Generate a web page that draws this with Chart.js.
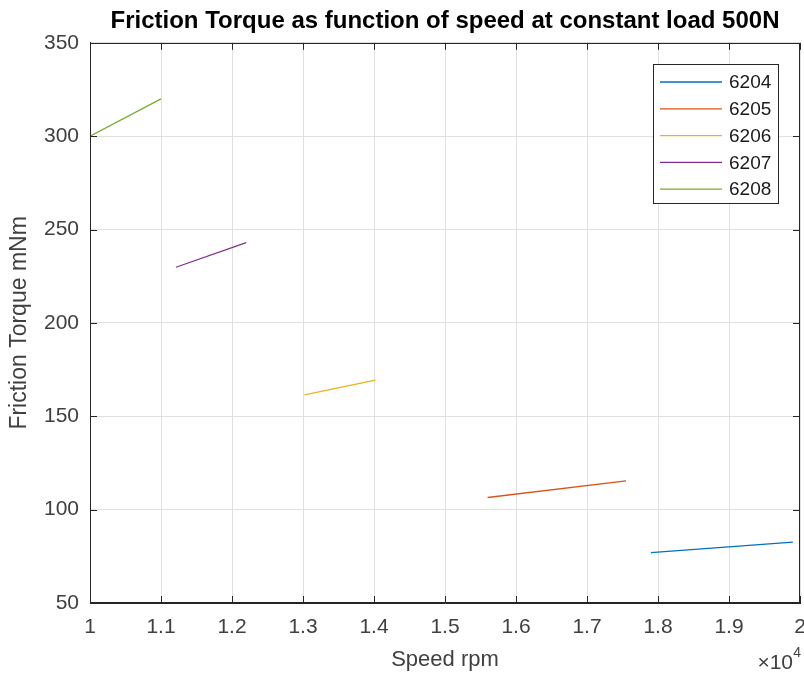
<!DOCTYPE html>
<html>
<head>
<meta charset="utf-8">
<script src="https://cdn.jsdelivr.net/npm/chart.js@4/dist/chart.umd.min.js"></script>
<style>
  html, body { margin: 0; padding: 0; background: #ffffff; }
  #wrap { width: 804px; height: 675px; }
</style>
</head>
<body>
<div id="wrap"><canvas id="c" width="804" height="675"></canvas></div>
<script>
// ---- data ----
const seriesNames = ['6204', '6205', '6206', '6207', '6208'];
const speed6204 = [17900, 19900];
const torque6204 = [77.0, 82.6];
const speed6205 = [15600, 17550];
const torque6205 = [106.5, 115.4];
const speed6206 = [13020, 14020];
const torque6206 = [161.4, 169.4];
const speed6207 = [11210, 12200];
const torque6207 = [229.8, 243.0];
const speed6208 = [10000, 11000];
const torque6208 = [300.0, 320.0];
const xTickValues = [10000, 11000, 12000, 13000, 14000, 15000, 16000, 17000, 18000, 19000, 20000];
const yTickValues = [50, 100, 150, 200, 250, 300, 350];
const colors = ['#0072BD', '#D95319', '#EDB120', '#7E2F8E', '#77AC30'];

const speeds = [speed6204, speed6205, speed6206, speed6207, speed6208];
const torques = [torque6204, torque6205, torque6206, torque6207, torque6208];

const FONT = '"Liberation Sans", Arial, Helvetica, sans-serif';
const AXIS_COLOR = '#262626';
const LABEL_COLOR = '#404040';

const datasets = seriesNames.map((name, i) => ({
  label: name,
  data: speeds[i].map((s, k) => ({ x: s, y: torques[i][k] })),
  borderColor: colors[i],
  backgroundColor: colors[i],
  borderWidth: 1.3,
  pointRadius: 0,
  showLine: true,
  fill: false,
  tension: 0
}));

// box, inward ticks, legend, exponent label
const matlabPlugin = {
  id: 'matlabDecor',
  afterDatasetsDraw(chart) {
    const ctx = chart.ctx;
    const a = chart.chartArea;
    const xs = chart.scales.x, ys = chart.scales.y;
    ctx.save();
    ctx.strokeStyle = AXIS_COLOR;
    ctx.lineWidth = 1;
    // inward ticks
    const tl = 7;
    ctx.beginPath();
    xTickValues.forEach(v => {
      const px = Math.round(xs.getPixelForValue(v)) + 0.5;
      ctx.moveTo(px, a.bottom); ctx.lineTo(px, a.bottom - tl);
      ctx.moveTo(px, a.top); ctx.lineTo(px, a.top + tl);
    });
    yTickValues.forEach(v => {
      const py = Math.round(ys.getPixelForValue(v)) + 0.5;
      ctx.moveTo(a.left, py); ctx.lineTo(a.left + tl, py);
      ctx.moveTo(a.right, py); ctx.lineTo(a.right - tl, py);
    });
    ctx.stroke();
    // box
    ctx.strokeRect(Math.round(a.left) + 0.5, Math.round(a.top) + 0.5,
                   Math.round(a.right - a.left) - 1, Math.round(a.bottom - a.top) - 1);

    // legend
    const lx = 653, ly = 64, lw = 125, lh = 139;
    ctx.fillStyle = '#ffffff';
    ctx.fillRect(lx, ly, lw, lh);
    ctx.strokeStyle = AXIS_COLOR;
    ctx.strokeRect(lx + 0.5, ly + 0.5, lw, lh);
    ctx.font = '19px ' + FONT;
    ctx.textBaseline = 'middle';
    ctx.textAlign = 'left';
    chart.data.datasets.forEach((ds, i) => {
      const y = ly + 18 + i * 26.8;
      ctx.strokeStyle = ds.borderColor;
      ctx.lineWidth = 1.3;
      ctx.beginPath();
      ctx.moveTo(lx + 7, y); ctx.lineTo(lx + 69, y);
      ctx.stroke();
      ctx.fillStyle = '#1a1a1a';
      ctx.fillText(ds.label, lx + 76, y + 1);
    });

    // x10^4 exponent label
    ctx.fillStyle = LABEL_COLOR;
    ctx.textBaseline = 'alphabetic';
    ctx.textAlign = 'right';
    ctx.font = '14px ' + FONT;
    ctx.fillText('4', 801, 657);
    ctx.font = '21px ' + FONT;
    ctx.fillText('\u00D710', 793, 669);
    ctx.restore();
  }
};

new Chart(document.getElementById('c'), {
  type: 'scatter',
  data: { datasets },
  plugins: [matlabPlugin],
  options: {
    responsive: false,
    animation: false,
    devicePixelRatio: 1,
    layout: { padding: { left: 0, right: 4, top: 0, bottom: 0 } },
    plugins: {
      legend: { display: false },
      tooltip: { enabled: false },
      title: {
        display: true,
        fullSize: false,
        text: 'Friction Torque as function of speed at constant load 500N',
        color: '#000000',
        font: { family: FONT, size: 24, weight: 'bold', lineHeight: 1.2 },
        padding: { top: 7, bottom: 7 }
      }
    },
    scales: {
      x: {
        type: 'linear',
        min: 10000,
        max: 20000,
        afterBuildTicks(scale) { scale.ticks = xTickValues.map(v => ({ value: v })); },
        afterFit(scale) { scale.height = 72; scale.paddingLeft = 0; scale.paddingRight = 0; },
        ticks: {
          color: LABEL_COLOR,
          font: { family: FONT, size: 21 },
          padding: 12,
          maxRotation: 0,
          autoSkip: false,
          callback: v => String(Number((v / 10000).toFixed(1)))
        },
        grid: { color: '#e0e0e0', lineWidth: 1, drawTicks: false },
        border: { display: true, color: AXIS_COLOR },
        title: {
          display: true,
          text: 'Speed rpm',
          color: LABEL_COLOR,
          font: { family: FONT, size: 22, lineHeight: 1.2 },
          padding: { top: 0, bottom: 2 }
        }
      },
      y: {
        type: 'linear',
        min: 50,
        max: 350,
        afterBuildTicks(scale) { scale.ticks = yTickValues.map(v => ({ value: v })); },
        afterFit(scale) { scale.width = 90; scale.paddingTop = 0; scale.paddingBottom = 0; },
        ticks: {
          color: LABEL_COLOR,
          font: { family: FONT, size: 21 },
          padding: 11,
          autoSkip: false
        },
        grid: { color: '#e0e0e0', lineWidth: 1, drawTicks: false },
        border: { display: true, color: AXIS_COLOR },
        title: {
          display: true,
          text: 'Friction Torque mNm',
          color: LABEL_COLOR,
          font: { family: FONT, size: 23, lineHeight: 1.2 },
          padding: { top: 6, bottom: 0 }
        }
      }
    }
  }
});
</script>
</body>
</html>
